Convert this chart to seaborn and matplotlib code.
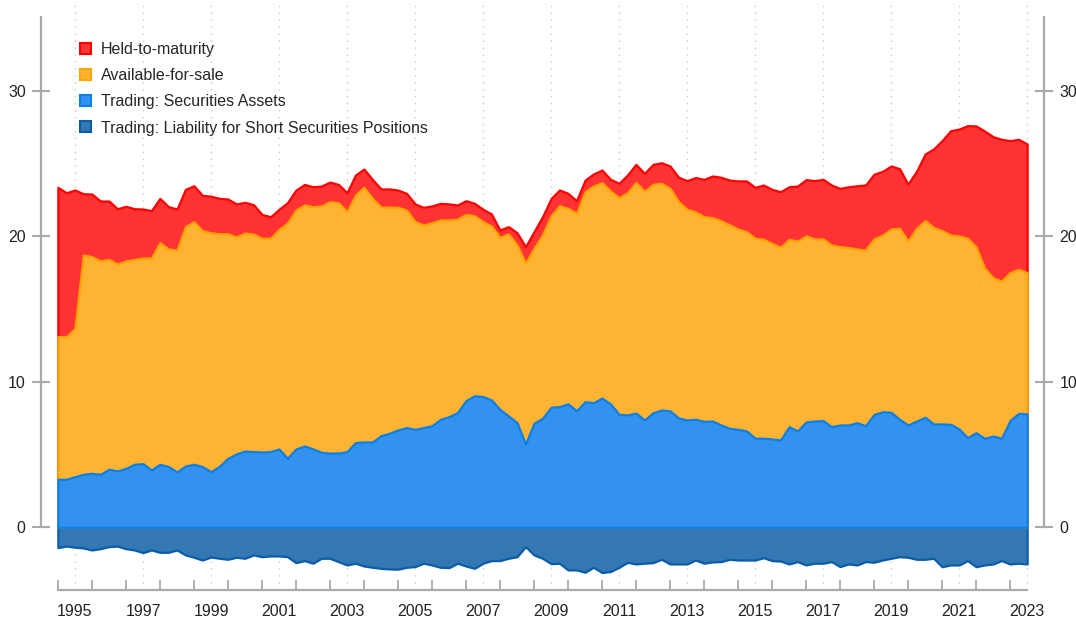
import numpy as np
import pandas as pd
import matplotlib
matplotlib.use("Agg")
import matplotlib.pyplot as plt
import matplotlib.dates as mdates
from matplotlib.patches import Patch
import seaborn as sns

# quarterly observations, 1994Q3 .. 2023Q1
quarters = pd.date_range("1994-07-01", "2023-01-01", freq="QS")

trading_assets = [
    3.30, 3.30, 3.48, 3.64, 3.71, 3.64, 3.99, 3.87, 4.05, 4.33,
    4.37, 3.94, 4.33, 4.17, 3.80, 4.21, 4.33, 4.17, 3.82, 4.19,
    4.74, 5.04, 5.24, 5.20, 5.17, 5.20, 5.38, 4.74, 5.38, 5.59,
    5.38, 5.15, 5.10, 5.10, 5.20, 5.82, 5.86, 5.86, 6.30, 6.46,
    6.69, 6.85, 6.73, 6.85, 6.98, 7.42, 7.60, 7.88, 8.70, 9.04,
    8.98, 8.75, 8.10, 7.65, 7.19, 5.72, 7.15, 7.49, 8.25, 8.29,
    8.49, 8.01, 8.63, 8.56, 8.88, 8.47, 7.76, 7.72, 7.85, 7.37,
    7.87, 8.06, 8.00, 7.51, 7.37, 7.42, 7.28, 7.30, 7.03, 6.80,
    6.73, 6.62, 6.12, 6.12, 6.07, 6.00, 6.91, 6.62, 7.24, 7.30,
    7.33, 6.91, 7.03, 7.03, 7.19, 6.98, 7.75, 7.94, 7.90, 7.42,
    7.03, 7.30, 7.56, 7.10, 7.10, 7.08, 6.75, 6.16, 6.50, 6.11,
    6.27, 6.11, 7.33, 7.83, 7.80]

available_for_sale = [
    9.80, 9.80, 10.19, 15.07, 14.89, 14.66, 14.42, 14.22, 14.25, 14.08,
    14.13, 14.56, 15.23, 14.95, 15.25, 16.45, 16.67, 16.21, 16.42, 15.98,
    15.43, 14.91, 14.98, 14.95, 14.69, 14.66, 15.10, 16.16, 16.42, 16.56,
    16.65, 16.93, 17.27, 17.20, 16.49, 17.01, 17.50, 16.74, 15.70, 15.54,
    15.30, 14.95, 14.27, 13.92, 13.95, 13.70, 13.52, 13.29, 12.80, 12.36,
    12.02, 11.95, 11.83, 12.50, 12.21, 12.42, 12.02, 12.61, 13.15, 13.81,
    13.43, 13.57, 14.43, 14.89, 14.80, 14.64, 14.89, 15.27, 15.85, 15.71,
    15.70, 15.57, 15.29, 14.86, 14.48, 14.25, 14.06, 13.98, 14.02, 13.99,
    13.77, 13.69, 13.74, 13.67, 13.44, 13.24, 12.88, 13.05, 12.78, 12.51,
    12.48, 12.49, 12.25, 12.19, 11.93, 12.08, 12.07, 12.14, 12.60, 13.13,
    12.64, 13.25, 13.51, 13.51, 13.28, 13.00, 13.27, 13.70, 12.78, 11.69,
    10.88, 10.81, 10.17, 9.90, 9.70]

held_to_maturity = [
    10.26, 9.89, 9.51, 4.21, 4.30, 4.12, 4.01, 3.80, 3.76, 3.48,
    3.37, 3.26, 3.04, 2.91, 2.82, 2.56, 2.47, 2.43, 2.51, 2.43,
    2.39, 2.27, 2.11, 2.02, 1.64, 1.48, 1.37, 1.41, 1.37, 1.41,
    1.37, 1.37, 1.35, 1.26, 1.30, 1.37, 1.26, 1.30, 1.25, 1.25,
    1.18, 1.15, 1.22, 1.22, 1.15, 1.14, 1.10, 0.98, 0.94, 0.86,
    0.85, 0.83, 0.50, 0.51, 0.84, 1.14, 1.14, 1.24, 1.20, 1.08,
    1.03, 0.86, 0.80, 0.83, 0.87, 0.80, 0.99, 1.22, 1.24, 1.24,
    1.37, 1.42, 1.54, 1.68, 1.97, 2.36, 2.57, 2.86, 3.00, 3.07,
    3.30, 3.49, 3.50, 3.73, 3.71, 3.82, 3.61, 3.78, 3.87, 4.01,
    4.10, 4.12, 4.01, 4.18, 4.35, 4.46, 4.44, 4.38, 4.33, 4.09,
    3.92, 3.91, 4.58, 5.39, 6.19, 7.17, 7.35, 7.74, 8.30, 9.43,
    9.69, 9.74, 9.07, 8.93, 8.84]

short_positions = [
    -1.40, -1.29, -1.37, -1.42, -1.56, -1.47, -1.33, -1.29, -1.47, -1.56,
    -1.74, -1.56, -1.72, -1.72, -1.56, -1.90, -2.06, -2.25, -2.04, -2.13,
    -2.20, -2.06, -2.13, -1.90, -2.02, -1.97, -1.97, -2.02, -2.43, -2.29,
    -2.47, -2.13, -2.13, -2.36, -2.59, -2.47, -2.66, -2.75, -2.82, -2.86,
    -2.88, -2.75, -2.70, -2.47, -2.59, -2.75, -2.77, -2.47, -2.66, -2.82,
    -2.47, -2.29, -2.29, -2.13, -2.02, -1.33, -1.90, -2.13, -2.50, -2.47,
    -2.93, -2.93, -3.09, -2.75, -3.11, -3.04, -2.75, -2.41, -2.52, -2.47,
    -2.43, -2.20, -2.52, -2.52, -2.52, -2.25, -2.47, -2.38, -2.36, -2.20,
    -2.25, -2.25, -2.25, -2.09, -2.29, -2.32, -2.52, -2.36, -2.59, -2.47,
    -2.47, -2.36, -2.70, -2.52, -2.59, -2.36, -2.40, -2.25, -2.13, -2.02,
    -2.06, -2.20, -2.20, -2.13, -2.71, -2.59, -2.59, -2.29, -2.71, -2.59,
    -2.52, -2.29, -2.52, -2.47, -2.52]

labels = ["Held-to-maturity", "Available-for-sale",
          "Trading: Securities Assets",
          "Trading: Liability for Short Securities Positions"]
fills = ["#ff3333", "#ffb333", "#3392f0", "#3377b3"]
edges = ["#ff0000", "#ffa500", "#0a7fe8", "#0a5ca8"]

df = pd.DataFrame({"trading": trading_assets, "afs": available_for_sale,
                   "htm": held_to_maturity, "short": short_positions},
                  index=quarters)
# stacked levels (each series drawn from zero up to its cumulative top)
df["afs_top"] = df["trading"] + df["afs"]
df["htm_top"] = df["afs_top"] + df["htm"]

sns.set_theme(style="white")
plt.rcParams["font.family"] = ["Liberation Sans", "DejaVu Sans"]

fig = plt.figure(figsize=(10.76, 6.17), dpi=100)
ax = fig.add_axes([41 / 1076, 27 / 617, 1003 / 1076, 585 / 617])

x = df.index
ax.fill_between(x, 0, df["short"], facecolor=fills[3], edgecolor=edges[3], lw=1.6, zorder=2)
ax.fill_between(x, 0, df["htm_top"], facecolor=fills[0], edgecolor=edges[0], lw=1.6, zorder=3)
ax.fill_between(x, 0, df["afs_top"], facecolor=fills[1], edgecolor=edges[1], lw=1.6, zorder=4)
ax.fill_between(x, 0, df["trading"], facecolor=fills[2], edgecolor=edges[2], lw=1.6, zorder=5)

ax.set_xlim(pd.Timestamp("1994-01-01"), pd.Timestamp("2023-07-01"))
ax.set_ylim(-4.31, 35.89)

# axes styling
gray = "#aaaaaa"
ax.spines["top"].set_visible(False)
for side in ["left", "right", "bottom"]:
    ax.spines[side].set_color(gray)
    ax.spines[side].set_linewidth(1.6)
ax.spines["left"].set_bounds(0, 35.06)
ax.spines["right"].set_bounds(0, 35.06)
ax.spines["bottom"].set_bounds(mdates.date2num(quarters[0]), mdates.date2num(quarters[-1]))

ax.set_yticks([0, 10, 20, 30])
ax.tick_params(axis="y", direction="inout", length=13, width=1.5, color=gray,
               left=True, right=True, labelleft=True, labelright=True,
               labelsize=11.5, labelcolor="#222222", pad=4.5)

year_labels = pd.to_datetime([f"{y}-01-01" for y in range(1995, 2024, 2)])
ax.set_xticks(year_labels)
ax.set_xticklabels([str(d.year) for d in year_labels])
mid_years = pd.to_datetime([f"{y}-07-01" for y in range(1994, 2023)])
ax.set_xticks(mid_years, minor=True)
ax.tick_params(axis="x", which="major", length=0, labelsize=11.5, labelcolor="#222222", pad=10)
ax.tick_params(axis="x", which="minor", direction="in", length=7, width=1.3, color=gray, bottom=True)
ax.grid(axis="x", which="major", color="#c8c8c8", linestyle=(0, (1, 4)), lw=1)
ax.grid(axis="y", visible=False)
ax.set_axisbelow(True)
ax.set_xlabel("")
ax.set_ylabel("")

handles = [Patch(facecolor=f, edgecolor=e, lw=1.5) for f, e in zip(fills, edges)]
ax.legend(handles, labels, loc="upper left", bbox_to_anchor=(80 / 1076, 1 - 42 / 617),
          bbox_transform=fig.transFigure, frameon=False, fontsize=11.5,
          handlelength=0.68, handleheight=0.68, handletextpad=0.62,
          labelspacing=0.7, borderpad=0, borderaxespad=0)

fig.savefig("out.png", dpi=100)
